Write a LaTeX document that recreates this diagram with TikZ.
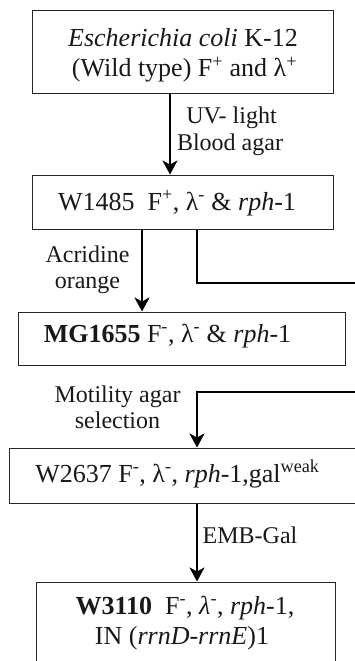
\documentclass[tikz,border=0pt]{standalone}
\usepackage{fontspec}
\setmainfont{Liberation Serif}
\usetikzlibrary{arrows.meta}
\begin{document}
\begin{tikzpicture}[x=1pt,y=-1pt,
  box/.style={draw=black!85, line width=1pt, inner sep=0pt},
  txt/.style={font=\fontsize{26}{30}\selectfont, anchor=base, inner sep=0pt, text=black!90},
  lab/.style={font=\fontsize{24}{28}\selectfont, anchor=base, inner sep=0pt, text=black!90},
  arr/.style={line width=2.4pt, -{Stealth[length=14pt,width=15pt,inset=4pt]}}]
\useasboundingbox (0,0) rectangle (355,661);
\clip (0,0) rectangle (355,661);
\fill[white] (0,0) rectangle (355,661);

% strain boxes
\node[box, minimum width=301pt, minimum height=82pt] (b1) at (182.5,52) {};
\node[box, minimum width=301pt, minimum height=54pt] (b2) at (182.5,202) {};
\node[box, minimum width=327pt, minimum height=53pt] (b3) at (181.5,338.5) {};
\node[box, minimum width=361pt, minimum height=55pt] (b4) at (189.5,475.5) {};
\node[box, minimum width=299pt, minimum height=118pt] (b5) at (185.5,641) {};

% strain descriptions
\node[txt] (t1a) at (183,47) {\textit{Escherichia coli} K-12};
\node[txt] (t1b) at (184.5,77) {(Wild type) F\textsuperscript{+} and λ\textsuperscript{+}};
\node[txt] (t2) at (177,210) {W1485\ \ F\textsuperscript{+}, λ\textsuperscript{-} \& \textit{rph}-1};
\node[txt] (t3) at (167.5,342) {\textbf{MG1655} F\textsuperscript{-}, λ\textsuperscript{-} \& \textit{rph}-1};
\node[txt] (t4) at (177.5,482) {W2637 F\textsuperscript{-}, λ\textsuperscript{-}, \textit{rph}-1,gal\textsuperscript{weak}};
\node[txt] (t5a) at (185,614) {\textbf{W3110}\ \ F\textsuperscript{-}, \textit{λ}\textsuperscript{-}, \textit{rph}-1,};
\node[txt] (t5b) at (182,644) {IN (\textit{rrnD-rrnE})1};

% treatment labels
\node[lab] (l1a) at (231.5,123) {UV- light};
\node[lab] (l1b) at (230,150) {Blood agar};
\node[lab] (l2a) at (87.5,262) {Acridine};
\node[lab] (l2b) at (87.5,288) {orange};
\node[lab] (l3a) at (117.5,402) {Motility agar};
\node[lab] (l3b) at (117.5,428) {selection};
\node[lab] (l4) at (250,543) {EMB-Gal};

% connector columns and the detour past the right edge
\coordinate (xa) at (170,0);
\coordinate (xb) at (142,0);
\coordinate (xc) at (197,0);
\coordinate (r1) at (365,283);
\coordinate (r2) at (365,392);

\draw[arr] (b1.south -| xa) -- (b2.north -| xa);
\draw[arr] (b2.south -| xb) -- (b3.north -| xb);
\draw[arr] (b2.south -| xc) |- (r1) -- (r2) -| (b4.north -| xc);
\draw[arr] (b4.south -| xc) -- (b5.north -| xc);
\end{tikzpicture}
\end{document}
